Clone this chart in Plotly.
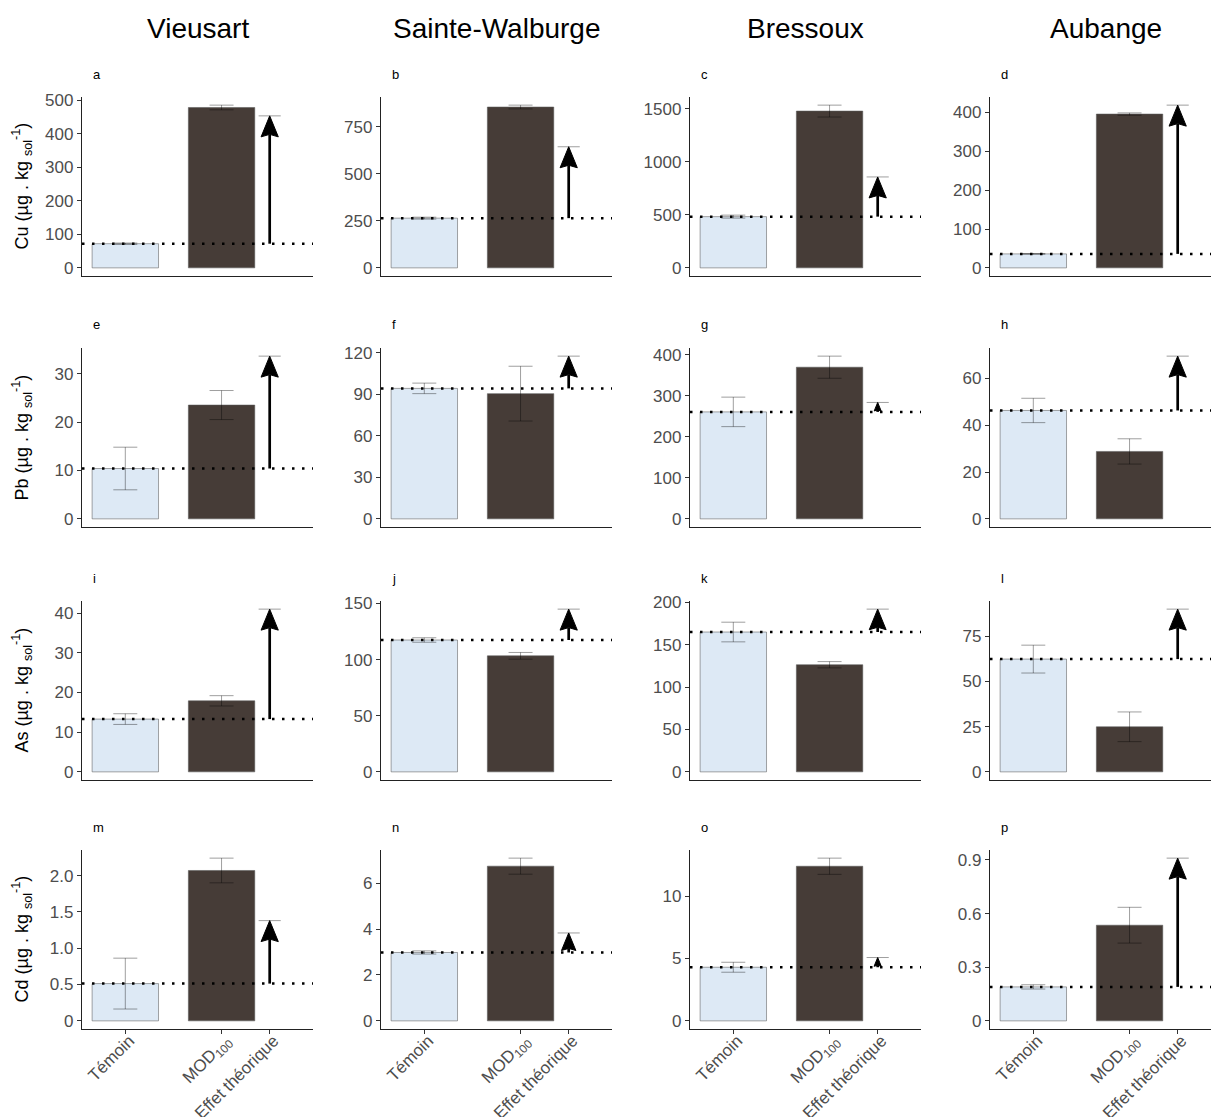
import plotly.graph_objects as go

# ---------------- data ----------------
sites = ["Vieusart", "Sainte-Walburge", "Bressoux", "Aubange"]
elements = ["Cu", "Pb", "As", "Cd"]
panel_letters = list("abcdefghijklmnop")
categories = ["Témoin", "MOD<sub>100</sub>", "Effet théorique"]
cat_pos = [1, 2, 2.5]

# Cu
temoin_cu = [72, 264, 483, 36]
temoin_cu_err = [2, 5, 14, 1]
mod_cu = [478, 854, 1478, 396]
mod_cu_err = [7, 10, 56, 3]
theo_cu = [453, 643, 857, 419]
# Pb
temoin_pb = [10.4, 94.3, 261, 46.3]
temoin_pb_err = [4.4, 3.8, 36, 5.2]
mod_pb = [23.5, 90.5, 370, 28.8]
mod_pb_err = [3.0, 19.8, 27, 5.4]
theo_pb = [33.6, 117.6, 284, 69.5]
# As
temoin_as = [13.3, 117.5, 165, 62.3]
temoin_as_err = [1.35, 2.0, 11.6, 7.7]
mod_as = [17.9, 103.4, 126.4, 24.9]
mod_as_err = [1.3, 3.0, 3.7, 8.2]
theo_as = [41.0, 145, 192, 89.9]
# Cd
temoin_cd = [0.513, 2.98, 4.3, 0.19]
temoin_cd_err = [0.35, 0.07, 0.4, 0.012]
mod_cd = [2.07, 6.74, 12.4, 0.535]
mod_cd_err = [0.17, 0.35, 0.65, 0.10]
theo_cd = [1.38, 3.83, 5.08, 0.91]

ytick_vals = [
    [0, 100, 200, 300, 400, 500], [0, 250, 500, 750], [0, 500, 1000, 1500], [0, 100, 200, 300, 400],
    [0, 10, 20, 30], [0, 30, 60, 90, 120], [0, 100, 200, 300, 400], [0, 20, 40, 60],
    [0, 10, 20, 30, 40], [0, 50, 100, 150], [0, 50, 100, 150, 200], [0, 25, 50, 75],
    [0, 0.5, 1.0, 1.5, 2.0], [0, 2, 4, 6], [0, 5, 10], [0, 0.3, 0.6, 0.9],
]
ytick_text = [
    ["0", "100", "200", "300", "400", "500"], ["0", "250", "500", "750"], ["0", "500", "1000", "1500"], ["0", "100", "200", "300", "400"],
    ["0", "10", "20", "30"], ["0", "30", "60", "90", "120"], ["0", "100", "200", "300", "400"], ["0", "20", "40", "60"],
    ["0", "10", "20", "30", "40"], ["0", "50", "100", "150"], ["0", "50", "100", "150", "200"], ["0", "25", "50", "75"],
    ["0", "0.5", "1.0", "1.5", "2.0"], ["0", "2", "4", "6"], ["0", "5", "10"], ["0", "0.3", "0.6", "0.9"],
]

temoin = [temoin_cu, temoin_pb, temoin_as, temoin_cd]
temoin_err = [temoin_cu_err, temoin_pb_err, temoin_as_err, temoin_cd_err]
mod = [mod_cu, mod_pb, mod_as, mod_cd]
mod_err = [mod_cu_err, mod_pb_err, mod_as_err, mod_cd_err]
theo = [theo_cu, theo_pb, theo_as, theo_cd]

y_titles = [f"{e} (µg . kg <sub>sol</sub><sup>-1</sup>)" for e in elements]

# ---------------- layout geometry ----------------
W, H = 1211, 1117
col_left = [82, 381, 690, 990]
row_top = [97, 348, 601, 850]
panel_w = 231
panel_h = 179
px_per_unit = panel_w / 2.4
x_lo = 0.55

FONT = "Liberation Sans, Arial, sans-serif"
C_TEM = "#dde9f5"
C_MOD = "#463c37"
C_ERR = "rgba(0,0,0,0.38)"
C_OUT = "rgba(90,90,90,0.55)"
TICKC = "#4d4d4d"

fig = go.Figure()
layout = dict(
    width=W, height=H, margin=dict(l=0, r=0, t=0, b=0, autoexpand=False),
    paper_bgcolor="white", plot_bgcolor="white", showlegend=False,
    font=dict(family=FONT, color=TICKC),
)
annotations = []
shapes = []

for r in range(4):
    for c in range(4):
        k = r * 4 + c + 1
        xa = "x" if k == 1 else f"x{k}"
        ya = "y" if k == 1 else f"y{k}"
        tem, te = temoin[r][c], temoin_err[r][c]
        md, me = mod[r][c], mod_err[r][c]
        th = theo[r][c]

        left = col_left[c]
        right = min(left + panel_w, W)
        x_hi = x_lo + (right - left) / px_per_unit
        top = row_top[r]
        bot = top + panel_h
        ymax = max(tem + te, md + me, th)
        y_range = [-0.05 * ymax, 1.05 * ymax]

        xaxis = dict(
            domain=[left / W, right / W], range=[x_lo, x_hi], anchor=ya,
            showline=True, linecolor="#222", linewidth=1.3, showgrid=False, zeroline=False,
            fixedrange=True, automargin=False,
        )
        if r == 3:
            xaxis.update(tickmode="array", tickvals=cat_pos, ticktext=categories,
                         ticks="outside", ticklen=4, tickcolor="#333", tickwidth=1,
                         tickangle=-45, ticklabelstandoff=-10, ticklabelshift=4,
                         tickfont=dict(size=17, color=TICKC, family=FONT))
        else:
            xaxis.update(showticklabels=False, ticks="")
        yaxis = dict(
            domain=[1 - bot / H, 1 - top / H], range=y_range, anchor=xa,
            showline=True, linecolor="#222", linewidth=1.3, showgrid=False, zeroline=False,
            tickmode="array", tickvals=ytick_vals[k - 1], ticktext=ytick_text[k - 1],
            ticks="outside", ticklen=4, tickcolor="#333", tickwidth=1,
            tickfont=dict(size=17, color=TICKC, family=FONT), fixedrange=True, automargin=False,
        )
        layout[f"xaxis{'' if k == 1 else k}"] = xaxis
        layout[f"yaxis{'' if k == 1 else k}"] = yaxis

        # bars with error bars
        fig.add_trace(go.Bar(
            x=cat_pos[:2], y=[tem, md], width=0.69,
            marker=dict(color=[C_TEM, C_MOD], line=dict(color=C_OUT, width=1)),
            error_y=dict(type="data", array=[te, me], color=C_ERR, thickness=1, width=12),
            xaxis=xa, yaxis=ya, hoverinfo="skip",
        ))
        # dotted reference line at the Témoin level
        shapes.append(dict(
            type="line", xref=f"{xa} domain", yref=ya, x0=0, x1=1, y0=tem, y1=tem,
            line=dict(color="black", width=2.5, dash="2.5px,7.5px"), layer="above",
        ))
        # cap at theoretical value
        fig.add_trace(go.Scatter(
            x=[cat_pos[2] - 0.115, cat_pos[2] + 0.115], y=[th, th], mode="lines",
            line=dict(color=C_ERR, width=1), xaxis=xa, yaxis=ya, hoverinfo="skip",
        ))
        # arrow Témoin -> theoretical effect (shaft + filled head)
        data_per_px = (y_range[1] - y_range[0]) / panel_h
        length_px = (th - tem) / data_per_px
        head_px = min(21.0, 0.9 * length_px)
        hw = head_px * 0.41 / px_per_unit
        yb = th - head_px * data_per_px
        notch = yb + head_px * 0.12 * data_per_px
        xc = cat_pos[2]
        fig.add_trace(go.Scatter(
            x=[xc, xc], y=[tem, notch], mode="lines",
            line=dict(color="black", width=2.7), xaxis=xa, yaxis=ya, hoverinfo="skip",
        ))
        shapes.append(dict(
            type="path", xref=xa, yref=ya, layer="above",
            path=f"M {xc - hw},{yb} L {xc},{th} L {xc + hw},{yb} L {xc},{notch} Z",
            fillcolor="black", line=dict(color="black", width=1),
        ))
        # panel letter
        annotations.append(dict(
            x=(left + 9) / W, y=1 - (top - 23) / H, xref="paper", yref="paper",
            xanchor="left", yanchor="middle", showarrow=False,
            text=panel_letters[k - 1], font=dict(size=13, color="black", family=FONT),
        ))

for c, s in enumerate(sites):
    annotations.append(dict(
        x=(col_left[c] + panel_w / 2) / W, y=1 - 29 / H, xref="paper", yref="paper",
        xanchor="center", yanchor="middle", showarrow=False,
        text=s, font=dict(size=28, color="black", family=FONT),
    ))
for r in range(4):
    annotations.append(dict(
        x=22 / W, y=1 - (row_top[r] + panel_h / 2) / H, xref="paper", yref="paper",
        xanchor="center", yanchor="middle", showarrow=False, textangle=-90,
        text=y_titles[r], font=dict(size=18, color="black", family=FONT),
    ))

layout["annotations"] = annotations
layout["shapes"] = shapes
layout["barmode"] = "overlay"
fig.update_layout(**layout)
fig.write_html("out.html")
